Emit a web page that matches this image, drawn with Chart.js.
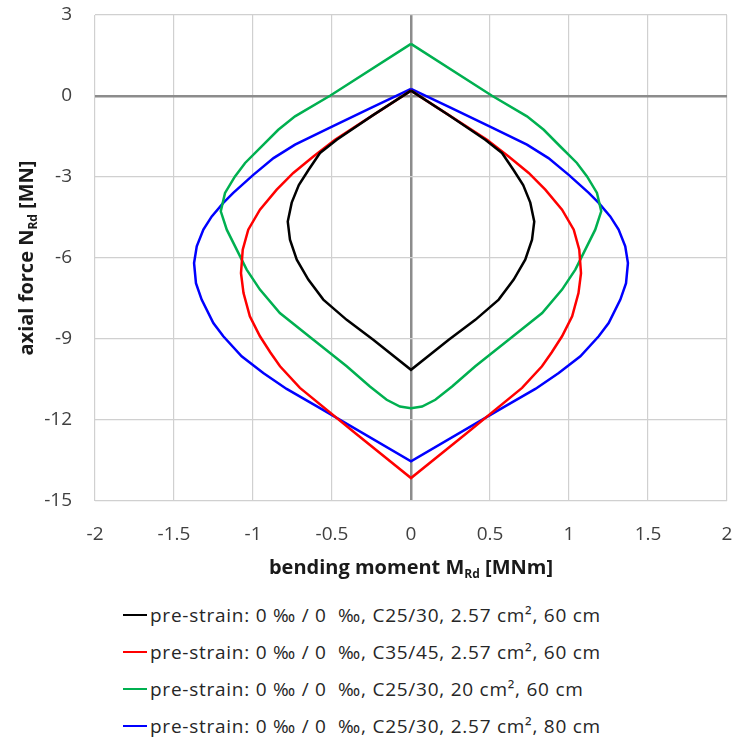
<!DOCTYPE html>
<html>
<head>
<meta charset="utf-8">
<script src="https://cdn.jsdelivr.net/npm/chart.js@4.4.1/dist/chart.umd.min.js"></script>
<style>
    body { margin: 0; background: #fff; }
    #wrap { width: 734px; height: 742px; position: relative; }
    #legend { position: absolute; left: 0; top: 596px; width: 734px; }
    .row { position: absolute; left: 123px; height: 24px; display: flex; align-items: center;
           font-family: 'Open Sans', sans-serif; font-size: 19px; letter-spacing: 0.75px; color: #262626; white-space: pre; }
    .swatch { width: 24px; height: 2.5px; margin-right: 3px; }
</style>
</head>
<body>
<div id="wrap">
    <canvas id="chart" width="734" height="592"></canvas>
    <div id="legend"></div>
</div>
<script>
// Interaction diagram data, M in MNm, N in MN
const seriesLabels = [
    'pre-strain: 0 ‰ / 0  ‰, C25/30, 2.57 cm², 60 cm',
    'pre-strain: 0 ‰ / 0  ‰, C35/45, 2.57 cm², 60 cm',
    'pre-strain: 0 ‰ / 0  ‰, C25/30, 20 cm², 60 cm',
    'pre-strain: 0 ‰ / 0  ‰, C25/30, 2.57 cm², 80 cm'
];
const seriesColors = ['#000000', '#ff0000', '#00b050', '#0000ff'];

const blackM = [0, -0.24, -0.47, -0.576, -0.65, -0.71, -0.755, -0.78, -0.766, -0.723, -0.65, -0.555, -0.407, -0.239, 0,
    0.239, 0.407, 0.555, 0.65, 0.723, 0.766, 0.78, 0.755, 0.71, 0.65, 0.576, 0.47, 0.24, 0];
const blackN = [0.2, -0.71, -1.62, -2.11, -2.75, -3.3, -3.95, -4.65, -5.32, -6.06, -6.8, -7.54, -8.29, -9.03, -10.14,
    -9.03, -8.29, -7.54, -6.8, -6.06, -5.32, -4.65, -3.95, -3.3, -2.75, -2.11, -1.62, -0.71, 0.2];

const redM = [0, -0.24, -0.481, -0.618, -0.745, -0.85, -0.956, -1.03, -1.065, -1.076, -1.06, -1.02, -0.956, -0.89, -0.829, -0.703, -0.35, 0,
    0.35, 0.703, 0.829, 0.89, 0.956, 1.02, 1.06, 1.076, 1.065, 1.03, 0.956, 0.85, 0.745, 0.618, 0.481, 0.24, 0];
const redN = [0.2, -0.71, -1.62, -2.24, -2.85, -3.47, -4.21, -4.95, -5.69, -6.56, -7.3, -8.16, -8.9, -9.5, -10.01, -10.81, -12.5, -14.15,
    -12.5, -10.81, -10.01, -9.5, -8.9, -8.16, -7.3, -6.56, -5.69, -4.95, -4.21, -3.47, -2.85, -2.24, -1.62, -0.71, 0.2];

const greenM = [0, -0.51, -0.734, -0.84, -0.945, -1.05, -1.114, -1.177, -1.204, -1.166, -1.103, -1.04, -0.956, -0.83, -0.618, -0.407, -0.26, -0.154, -0.07, 0,
    0.07, 0.154, 0.26, 0.407, 0.618, 0.83, 0.956, 1.04, 1.103, 1.166, 1.204, 1.177, 1.114, 1.05, 0.945, 0.84, 0.734, 0.51, 0];
const greenN = [1.93, 0.02, -0.755, -1.25, -1.87, -2.48, -2.98, -3.59, -4.27, -4.95, -5.69, -6.43, -7.17, -8.04, -9.03, -10.01, -10.76, -11.25, -11.5, -11.56,
    -11.5, -11.25, -10.76, -10.01, -9.03, -8.04, -7.17, -6.43, -5.69, -4.95, -4.27, -3.59, -2.98, -2.48, -1.87, -1.25, -0.755, 0.02, 1.93];

const blueM = [0, -0.25, -0.5, -0.734, -0.87, -1.0, -1.125, -1.188, -1.261, -1.314, -1.356, -1.373, -1.361, -1.325, -1.251, -1.188, -1.072, -0.935, -0.787, -0.576, 0,
    0.576, 0.787, 0.935, 1.072, 1.188, 1.251, 1.325, 1.361, 1.373, 1.356, 1.314, 1.261, 1.188, 1.125, 1.0, 0.87, 0.734, 0.5, 0.25, 0];
const blueN = [0.26, -0.43, -1.13, -1.8, -2.3, -2.93, -3.59, -3.96, -4.46, -4.95, -5.57, -6.19, -6.93, -7.54, -8.41, -8.9, -9.64, -10.26, -10.85, -11.56, -13.53,
    -11.56, -10.85, -10.26, -9.64, -8.9, -8.41, -7.54, -6.93, -6.19, -5.57, -4.95, -4.46, -3.96, -3.59, -2.93, -2.3, -1.8, -1.13, -0.43, 0.26];

const seriesM = [blackM, redM, greenM, blueM];
const seriesN = [blackN, redN, greenN, blueN];

const FONT = "'Open Sans', sans-serif";
const TICK_COLOR = '#404040';

// Axis titles with subscript drawn on the canvas
const axisTitles = {
    id: 'axisTitles',
    afterDraw(chart) {
        const ctx = chart.ctx;
        const area = chart.chartArea;
        const parts = (main, sub, rest) => [
            { t: main, f: `bold 20px ${FONT}`, dy: 0 },
            { t: sub, f: `bold 12px ${FONT}`, dy: 4 },
            { t: rest, f: `bold 20px ${FONT}`, dy: 0 }
        ];
        const drawRun = (runs, cx, baseline) => {
            let w = 0;
            runs.forEach(r => { ctx.font = r.f; w += ctx.measureText(r.t).width; });
            let x = cx - w / 2;
            runs.forEach(r => {
                ctx.font = r.f;
                ctx.fillText(r.t, x, baseline + r.dy);
                x += ctx.measureText(r.t).width;
            });
        };
        ctx.save();
        ctx.fillStyle = '#1a1a1a';
        ctx.textBaseline = 'alphabetic';
        drawRun(parts('bending moment M', 'Rd', ' [MNm]'), (area.left + area.right) / 2, 574);
        ctx.translate(33, (area.top + area.bottom) / 2);
        ctx.rotate(-Math.PI / 2);
        drawRun(parts('axial force N', 'Rd', ' [MN]'), 0, 0);
        ctx.restore();
    }
};

function gridColor(c) {
    return c.tick && c.tick.value === 0 ? '#8c8c8c' : '#d0d0d0';
}
function gridWidth(c) {
    return c.tick && c.tick.value === 0 ? 2.5 : 1.2;
}

// keep the plot edges where layout.padding puts them
function fixWidth(s) {
    s.width = 95;
    s.paddingTop = 0;
    s.paddingBottom = 0;
}
function fixHeight(s) {
    s.height = 91;
    s.paddingLeft = 0;
    s.paddingRight = 0;
}

new Chart(document.getElementById('chart'), {
    type: 'scatter',
    data: {
        datasets: seriesLabels.map((label, i) => ({
            label: label,
            data: seriesM[i].map((m, j) => ({ x: m, y: seriesN[i][j] })),
            showLine: true,
            borderColor: seriesColors[i],
            backgroundColor: seriesColors[i],
            borderWidth: 2.5,
            pointRadius: 0,
            tension: 0
        }))
    },
    options: {
        responsive: false,
        animation: false,
        layout: { padding: { top: 15, right: 7, left: 0, bottom: 0 } },
        plugins: {
            legend: { display: false },
            tooltip: { enabled: false }
        },
        scales: {
            x: {
                type: 'linear',
                min: -2,
                max: 2,
                afterFit: fixHeight,
                border: { display: false },
                grid: { color: gridColor, lineWidth: gridWidth, drawTicks: false },
                ticks: { stepSize: 0.5, padding: 22, color: TICK_COLOR, font: { family: FONT, size: 19 },
                    callback: v => String(v) }
            },
            y: {
                type: 'linear',
                min: -15,
                max: 3,
                afterFit: fixWidth,
                border: { display: false },
                grid: { color: gridColor, lineWidth: gridWidth, drawTicks: false },
                ticks: { stepSize: 3, padding: 23, color: TICK_COLOR, font: { family: FONT, size: 19 },
                    callback: v => String(v) }
            }
        }
    },
    plugins: [axisTitles]
});

// Legend rows below the plot
const legend = document.getElementById('legend');
seriesLabels.forEach((label, i) => {
    const row = document.createElement('div');
    row.className = 'row';
    row.style.top = (i * 37 + 7) + 'px';
    const sw = document.createElement('span');
    sw.className = 'swatch';
    sw.style.background = seriesColors[i];
    const txt = document.createElement('span');
    txt.textContent = label;
    row.appendChild(sw);
    row.appendChild(txt);
    legend.appendChild(row);
});
</script>
</body>
</html>
